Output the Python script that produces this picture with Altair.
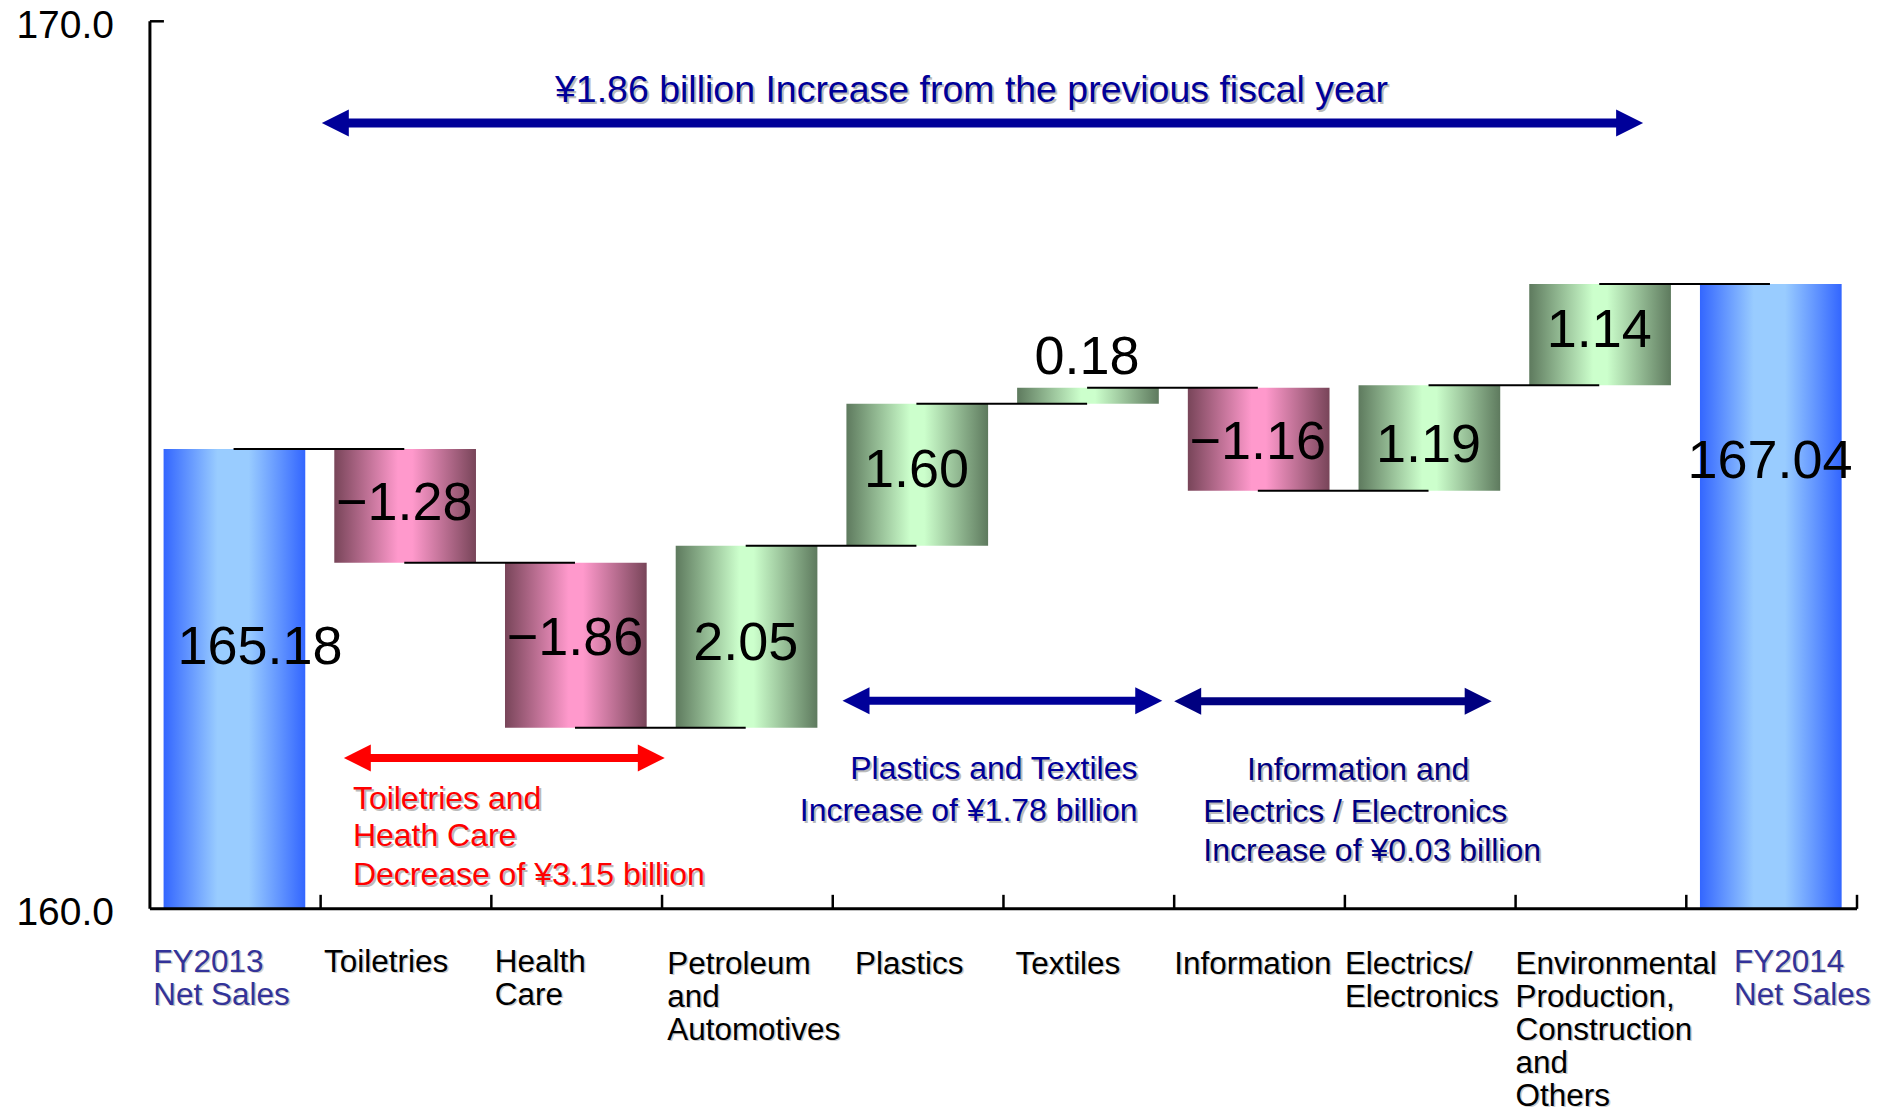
import altair as alt
import pandas as pd

# ---------------- data ----------------
categories = ["FY2013 Net Sales", "Toiletries", "Health Care", "Petroleum and Automotives",
              "Plastics", "Textiles", "Information", "Electrics/Electronics",
              "Environmental Production, Construction and Others", "FY2014 Net Sales"]
axis_labels = ["FY2013\nNet Sales", "Toiletries", "Health\nCare", "Petroleum\nand\nAutomotives",
               "Plastics", "Textiles", "Information", "Electrics/\nElectronics",
               "Environmental\nProduction,\nConstruction\nand\nOthers", "FY2014\nNet Sales"]
kinds = ["total", "delta", "delta", "delta", "delta", "delta", "delta", "delta", "delta", "total"]
values = [165.18, -1.28, -1.86, 2.05, 1.60, 0.18, -1.16, 1.19, 1.14, 167.04]
total_label_at = [162.94, 165.03]          # where the two total labels sit (value units)

y_tick_values = [160.0, 170.0]

arrow_x1 = [1.007, 1.136, 4.057, 6.0]
arrow_x2 = [8.747, 3.016, 5.93, 7.86]
arrow_y = [168.854, 161.70, 162.345, 162.34]
arrow_color = ["#000099", "#FF0000", "#000099", "#000080"]
arrow_width = [9, 8, 8, 8]

note_text = ["¥1.86 billion Increase from the previous fiscal year",
             "Toiletries and", "Heath Care", "Decrease of ¥3.15 billion",
             "Plastics and Textiles", "Increase of ¥1.78 billion",
             "Information and", "Electrics / Electronics", "Increase of ¥0.03 billion"]
note_x = [4.813, 1.189, 1.189, 1.189, 5.785, 5.785, 7.078, 6.171, 6.171]
note_y = [169.085, 161.126, 160.709, 160.27, 161.463, 160.991, 161.452, 160.979, 160.54]
note_align = ["center", "left", "left", "left", "right", "right", "center", "left", "left"]
note_color = ["#000099", "#FF0000", "#FF0000", "#FF0000", "#000099", "#000099",
              "#000080", "#000080", "#000080"]
note_size = [37.5, 32, 32, 32, 32, 32, 32, 32, 32]

# ---------------- style constants ----------------
FONT = "Liberation Sans"
W, H = 1708, 888
Y_MIN, Y_MAX = 160, 170
PX_PER_UNIT = H / (Y_MAX - Y_MIN)
BAR_L, BAR_R, BAR_C = 0.08, 0.91, 0.49
label_shift = [0.155, 0, 0, 0, 0, 0, 0, 0, 0, 0]
label_nudge_px = [0, -2, -6, 7, -4, 3, 4, 8, -4, 0]
label_x_pos = [0.02, 1.02, 2.02, 3.03, 4.13, 5.07, 6.0, 7.0, 8.0, 9.28]
label_drop = [63, 63, 63, 65, 65, 65, 65, 65, 65, 63]
label_color = ["#333399"] + ["#000000"] * 8 + ["#333399"]

# ---------------- build tables ----------------
rows = []
running = 0.0
ti = 0
for i, (c, k, v) in enumerate(zip(categories, kinds, values)):
    if k == "total":
        start, end = Y_MIN, v
        running = v
        ly = total_label_at[ti]
        ti += 1
        txt = f"{v:.2f}"
        kind = "total"
    else:
        start, end = running, running + v
        running = end
        ly = (start + end) / 2 if abs(v) >= 0.3 else max(start, end) + 0.367
        txt = ("−" if v < 0 else "") + f"{abs(v):.2f}"
        kind = "neg" if v < 0 else "pos"
    ly -= label_nudge_px[i] / PX_PER_UNIT
    rows.append(dict(i=i, cat=c, kind=kind, x0=i + BAR_L, x1=i + BAR_R,
                     start=start, end=end, label=txt,
                     lx=i + BAR_C + label_shift[i], ly=ly))
bars = pd.DataFrame(rows)

conn = pd.DataFrame([dict(xa=r["i"] + BAR_C, xb=r["i"] + 1 + BAR_C, y=r["end"])
                     for r in rows[:-1]])

xlab = pd.DataFrame(dict(text=axis_labels, x=label_x_pos,
                         py=[H + d for d in label_drop], color=label_color))

ticks_df = pd.DataFrame(dict(x=list(range(1, 11))))
ylab = pd.DataFrame(dict(y=y_tick_values, text=[f"{v:.1f}" for v in y_tick_values]))

arrows = pd.DataFrame(dict(x1=arrow_x1, x2=arrow_x2, y=arrow_y, color=arrow_color, w=arrow_width))
notes = pd.DataFrame(dict(text=note_text, x=note_x, y=note_y, align=note_align,
                          color=note_color, size=note_size))

xs = alt.Scale(domain=[0, 10], nice=False, zero=False)
ys = alt.Scale(domain=[Y_MIN, Y_MAX], nice=False, zero=False)


def grad(edge, mid, a, b):
    return alt.Gradient(gradient="linear", x1=0, x2=1, y1=0, y2=0,
                        stops=[alt.GradientStop(offset=0, color=edge),
                               alt.GradientStop(offset=a, color=mid),
                               alt.GradientStop(offset=b, color=mid),
                               alt.GradientStop(offset=1, color=edge)])


base_bar = alt.Chart(bars)


def bar_layer(kind, fill):
    return base_bar.transform_filter(alt.datum.kind == kind).mark_bar(color=fill).encode(
        x=alt.X("x0:Q", scale=xs, axis=None),
        x2="x1:Q",
        y=alt.Y("start:Q", scale=ys, axis=None),
        y2="end:Q",
    )


blue = bar_layer("total", grad("#3366FF", "#99CCFF", 0.38, 0.6))
pink = bar_layer("neg", grad("#784559", "#FF99CC", 0.45, 0.55))
green = bar_layer("pos", grad("#5E7A5E", "#CCFFCC", 0.45, 0.55))

connectors = alt.Chart(conn).mark_rule(color="black", strokeWidth=2).encode(
    x=alt.X("xa:Q", scale=xs, axis=None), x2="xb:Q",
    y=alt.Y("y:Q", scale=ys, axis=None))

value_labels = base_bar.mark_text(font=FONT, fontSize=54, color="black",
                                  align="center", baseline="middle").encode(
    x=alt.X("lx:Q", scale=xs, axis=None), y=alt.Y("ly:Q", scale=ys, axis=None),
    text="label:N")

# axes drawn by hand (ticks point inward)
x_domain = alt.Chart(pd.DataFrame(dict(a=[0], b=[10], y=[Y_MIN]))).mark_rule(
    color="black", strokeWidth=3).encode(
    x=alt.X("a:Q", scale=xs, axis=None), x2="b:Q", y=alt.Y("y:Q", scale=ys, axis=None))
y_domain = alt.Chart(pd.DataFrame(dict(a=[Y_MIN], b=[Y_MAX]))).mark_rule(
    color="black", strokeWidth=3).encode(
    y=alt.Y("a:Q", scale=ys, axis=None), y2="b:Q", x=alt.value(0))

xticks = alt.Chart(ticks_df).mark_rule(color="black", strokeWidth=2.5).encode(
    x=alt.X("x:Q", scale=xs, axis=None), y=alt.value(H), y2=alt.value(H - 14))

ytick = alt.Chart(pd.DataFrame(dict(y=[Y_MAX]))).mark_rule(color="black", strokeWidth=2.5).encode(
    y=alt.Y("y:Q", scale=ys, axis=None), x=alt.value(0), x2=alt.value(14))

ylabels = alt.Chart(ylab).mark_text(font=FONT, fontSize=39, color="black", align="right",
                                    baseline="alphabetic", dy=16.5).encode(
    y=alt.Y("y:Q", scale=ys, axis=None), x=alt.value(-36), text="text:N")

arrow_base = alt.Chart(arrows)
shaft = arrow_base.mark_rule(xOffset=14, x2Offset=-14, strokeCap="butt").encode(
    x=alt.X("x1:Q", scale=xs, axis=None), x2="x2:Q",
    y=alt.Y("y:Q", scale=ys, axis=None),
    color=alt.Color("color:N", scale=None),
    strokeWidth=alt.StrokeWidth("w:Q", scale=None))
head_left = arrow_base.mark_point(shape="M 1 -1 L -1 0 L 1 1 Z", filled=True, size=729,
                                  opacity=1, xOffset=13.5).encode(
    x=alt.X("x1:Q", scale=xs, axis=None), y=alt.Y("y:Q", scale=ys, axis=None),
    color=alt.Color("color:N", scale=None))
head_right = arrow_base.mark_point(shape="M -1 -1 L 1 0 L -1 1 Z", filled=True, size=729,
                                   opacity=1, xOffset=-13.5).encode(
    x=alt.X("x2:Q", scale=xs, axis=None), y=alt.Y("y:Q", scale=ys, axis=None),
    color=alt.Color("color:N", scale=None))

note_layers = []
for align in ["left", "center", "right"]:
    sub = alt.Chart(notes).transform_filter(alt.datum.align == align)
    enc = dict(x=alt.X("x:Q", scale=xs, axis=None), y=alt.Y("y:Q", scale=ys, axis=None),
               text="text:N", size=alt.Size("size:Q", scale=None))
    note_layers.append(sub.mark_text(font=FONT, align=align, baseline="alphabetic",
                                     color="#BBBBBB", dx=2, dy=2).encode(**enc))
    note_layers.append(sub.mark_text(font=FONT, align=align, baseline="alphabetic").encode(
        color=alt.Color("color:N", scale=None), **enc))

xlab_enc = dict(x=alt.X("x:Q", scale=xs, axis=None), y=alt.Y("py:Q", scale=None, axis=None),
                text="text:N")
xlab_shadow = alt.Chart(xlab).mark_text(font=FONT, fontSize=31.5, align="left", baseline="alphabetic",
                                         lineBreak="\n", lineHeight=33, color="#CCCCCC",
                                         dx=1.5, dy=1.5).encode(**xlab_enc)
xlab_text = alt.Chart(xlab).mark_text(font=FONT, fontSize=31.5, align="left", baseline="alphabetic",
                                       lineBreak="\n", lineHeight=33).encode(
    color=alt.Color("color:N", scale=None), **xlab_enc)

chart = alt.layer(
    blue, pink, green, connectors, value_labels, x_domain, y_domain, xticks, ytick, ylabels,
    shaft, head_left, head_right, *note_layers, xlab_shadow, xlab_text
).properties(
    width=W, height=H,
    padding={"left": 142, "top": 13, "right": 16, "bottom": 207},
    autosize="none",
    background="white",
).configure_view(stroke=None)

chart.save("out.html", embed_options={"renderer": "svg", "actions": False})
